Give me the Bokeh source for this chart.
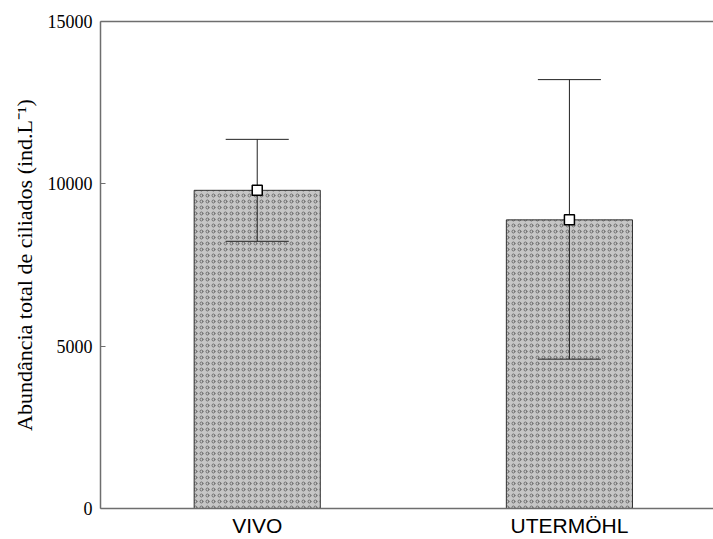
from bokeh.plotting import figure
from bokeh.models import ColumnDataSource, FixedTicker, LinearAxis, Range1d
from bokeh.embed import file_html
from bokeh.resources import INLINE

# ---- data ----
categories = ["VIVO", "UTERMÖHL"]
means = [9800, 8890]
lower = [8230, 4600]
upper = [11370, 13210]
y_ticks = [0, 5000, 10000, 15000]
y_label = "Abundância total de ciliados (ind.L⁻¹)"

# ---- layout helpers ----
xpos = [i + 1 for i in range(len(categories))]
bar_width = 0.404
cap_half = 0.101

SERIF = "Liberation Serif"
SANS = "Liberation Sans"
AXIS_COL = "#6e6e6e"

p = figure(width=713, height=539, output_backend="svg", toolbar_location=None,
           x_range=Range1d(0.498, 2.4615), y_range=Range1d(0, 15000),
           min_border_left=100, min_border_right=0, min_border_top=21,
           min_border_bottom=30)
p.outline_line_color = None
p.grid.visible = False
p.background_fill_color = "white"
p.border_fill_color = "white"

src = ColumnDataSource(dict(
    x=xpos, top=means, lo=lower, hi=upper,
    x0=[x - cap_half for x in xpos], x1=[x + cap_half for x in xpos]))

p.vbar(x="x", top="top", bottom=0, width=bar_width, source=src,
       fill_color="#c6c6c6", line_color="#333333", line_width=1,
       hatch_pattern="ring", hatch_color="#6a6a6a", hatch_scale=6,
       hatch_weight=1)

p.segment(x0="x", y0="lo", x1="x", y1="hi", source=src,
          line_color="#222222", line_width=1)
p.segment(x0="x0", y0="hi", x1="x1", y1="hi", source=src,
          line_color="#222222", line_width=1)
p.segment(x0="x0", y0="lo", x1="x1", y1="lo", source=src,
          line_color="#222222", line_width=1)

p.scatter(x="x", y="top", source=src, marker="square", size=10,
          fill_color="white", line_color="black", line_width=1.5)

# y axis
yax = p.yaxis[0]
yax.ticker = FixedTicker(ticks=y_ticks)
yax.minor_tick_line_color = None
yax.major_tick_in = 5
yax.major_tick_out = 0
yax.major_tick_line_color = AXIS_COL
yax.axis_line_color = AXIS_COL
yax.axis_line_width = 1.5
yax.major_label_text_font = SERIF
yax.major_label_text_font_size = "18px"
yax.major_label_text_color = "black"
yax.major_label_standoff = 8
yax.axis_label = y_label
yax.axis_label_text_font = SERIF
yax.axis_label_text_font_style = "normal"
yax.axis_label_text_font_size = "22px"
yax.axis_label_text_color = "black"
yax.axis_label_standoff = 8

# x axis
xax = p.xaxis[0]
xax.ticker = FixedTicker(ticks=xpos)
xax.major_label_overrides = {x: c for x, c in zip(xpos, categories)}
xax.minor_tick_line_color = None
xax.major_tick_line_color = None
xax.major_tick_in = 0
xax.major_tick_out = 0
xax.axis_line_color = AXIS_COL
xax.axis_line_width = 1.5
xax.major_label_text_font = SANS
xax.major_label_text_font_size = "21px"
xax.major_label_text_color = "black"
xax.major_label_standoff = 5

# top frame line
top = LinearAxis(ticker=FixedTicker(ticks=[]), axis_line_color=AXIS_COL,
                 axis_line_width=1.5, major_tick_line_color=None,
                 minor_tick_line_color=None, major_label_text_font_size="0px",
                 major_label_standoff=0, major_tick_in=0, major_tick_out=0)
p.add_layout(top, "above")

open("out.html", "w").write(file_html(p, INLINE))
